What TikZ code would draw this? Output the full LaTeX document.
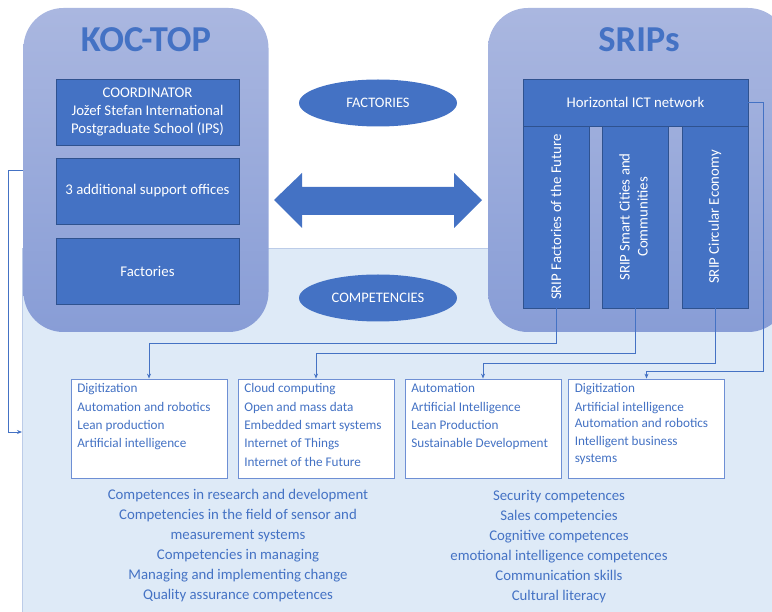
\documentclass[tikz,border=0pt]{standalone}
\usepackage{fontspec}
\usepackage{graphicx}
\setmainfont{Carlito}
\usetikzlibrary{positioning,shapes.geometric,arrows.meta}
\definecolor{officeblue}{HTML}{4472C4}
\definecolor{officeline}{HTML}{2F528F}
\definecolor{paneltop}{RGB}{170,183,224}
\definecolor{panelbot}{RGB}{136,157,214}
\definecolor{bgblue}{RGB}{222,234,247}
\definecolor{bgline}{RGB}{188,204,232}
\definecolor{skillline}{RGB}{110,143,212}
\tikzset{
	panel/.style={rounded corners=40pt, top color=paneltop, bottom color=panelbot, minimum height=324pt, inner sep=0pt},
	paneltitle/.style={text=officeblue, font=\fontsize{36.5}{42}\selectfont\bfseries},
	unit/.style={fill=officeblue, draw=officeline, line width=0.6pt, text=white, align=center, font=\fontsize{14.8}{18}\selectfont, inner sep=0pt},
	tag/.style={ellipse, fill=officeblue, text=white, minimum width=158pt, minimum height=47pt, font=\fontsize{14.5}{17}\selectfont, inner sep=0pt},
	skillbox/.style={draw=skillline, fill=white, line width=0.8pt, minimum width=156pt, minimum height=99pt, inner sep=0pt},
	skilltext/.style={text=officeblue, align=left, font=\fontsize{13.2}{18.3}\selectfont, inner sep=0pt},
	comptext/.style={text=officeblue, align=center, font=\fontsize{14.8}{20}\selectfont, inner sep=0pt},
	link/.style={draw=officeblue, line width=0.9pt, -{Stealth[length=5pt,width=4pt]}}
}
\begin{document}
\begin{tikzpicture}[x=1pt,y=-1pt]
	\useasboundingbox (0,0) rectangle (772,612);
	% light background of the lower part
	\fill [bgblue] (22,248) rectangle (772,612);
	\draw [bgline] (22,612) -- (22,248) -- (772,248);
	% the two panels
	\node [panel, minimum width=245pt] (koc) at (146,170) {};
	\node [panel, minimum width=300pt] (srips) at (638,170) {};
	\node [paneltitle] (koctitle) at (146,40) {KOC-TOP};
	\node [paneltitle] (sripstitle) at (639,40) {SRIPs};
	\node [unit, minimum width=183pt, minimum height=66pt] (coord) at (147.5,112) {COORDINATOR\\Jožef Stefan International\\Postgraduate School (IPS)};
	\node [unit, minimum width=183pt, minimum height=66pt] (offices) at (147.5,191) {3 additional support offices};
	\node [unit, minimum width=183pt, minimum height=66pt] (fact) at (147.5,271) {Factories};
	\node [unit, minimum width=225pt, minimum height=47pt] (ict) at (635.5,102.5) {Horizontal ICT network};
	\node [unit, minimum width=66pt, minimum height=182pt] (fa) at (556,217) {\rotatebox{90}{SRIP Factories of the Future}};
	\node [unit, minimum width=66pt, minimum height=182pt] (fb) at (635,217) {\rotatebox{90}{\begin{tabular}{@{}c@{}}SRIP Smart Cities and\\Communities\end{tabular}}};
	\node [unit, minimum width=66pt, minimum height=182pt] (fc) at (715,217) {\rotatebox{90}{SRIP Circular Economy}};
	% middle
	\node [tag] (factories) at (378,103) {FACTORIES};
	\node [tag] (competencies) at (378,298) {COMPETENCIES};
	\fill [officeblue] (274,200) -- (302,173) -- (302,187) -- (454,187) -- (454,173) -- (482,200)
		-- (454,228) -- (454,215) -- (302,215) -- (302,228) -- cycle;
	% skill boxes
	\node [skillbox] (s1) at (149,428.5) {};
	\node [skillbox] (s2) at (316,428.5) {};
	\node [skillbox] (s3) at (483,428.5) {};
	\node [skillbox] (s4) at (646.5,428.5) {};
	\node [skilltext, below right=5pt and 6.5pt of s1.north west] (t1) {Digitization\\Automation and robotics\\Lean production\\Artificial intelligence};
	\node [skilltext, below right=5pt and 6.5pt of s2.north west] (t2) {Cloud computing\\Open and mass data\\Embedded smart systems\\Internet of Things\\Internet of the Future};
	\node [skilltext, below right=5pt and 6.5pt of s3.north west] (t3) {Automation\\Artificial Intelligence\\Lean Production\\Sustainable Development};
	\node [skilltext, below right=5pt and 6.5pt of s4.north west] (t4) {Digitization\\Artificial intelligence\\[-2pt]Automation and robotics\\Intelligent business\\[-2pt]systems};
	% connectors
	\draw [link] (fa.south) -- ++(0,35) -| (s1.north);
	\draw [link] (fb.south) -- ++(0,45) -| (s2.north);
	\draw [link] (fc.south) -- ++(0,55) -| (s3.north);
	\draw [link] (ict.east) -- ++(15,0) -- ++(0,268.5) -| (s4.north);
	\coordinate (bgin) at (22,432);
	\draw [link] (koc.west) -- ++(-15,0) |- (bgin);
	% competences
	\node [comptext] (compl) at (238,546) {Competences in research and development\\Competencies in the field of sensor and\\measurement systems\\Competencies in managing\\Managing and implementing change\\Quality assurance competences};
	\node [comptext] (compr) at (559,547) {Security competences\\Sales competencies\\Cognitive competences\\emotional intelligence competences\\Communication skills\\Cultural literacy};
\end{tikzpicture}
\end{document}
